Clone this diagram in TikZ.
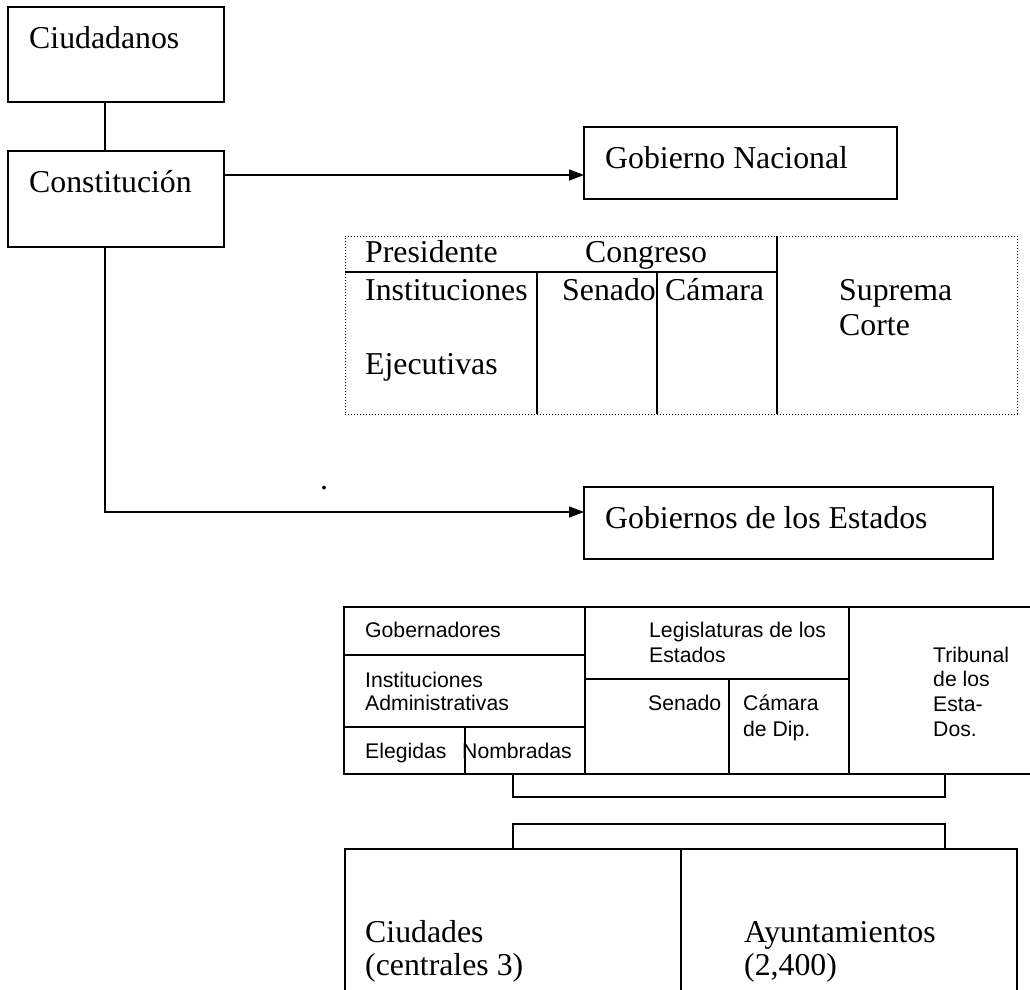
\documentclass[tikz,border=0pt]{standalone}
\usepackage{fontspec}
\setmainfont{Liberation Serif}
\newfontfamily\arialfont{Liberation Sans}
\usetikzlibrary{arrows.meta}
\begin{document}
\begin{tikzpicture}[x=1pt,y=-1pt,
  box/.style={draw,line width=1.4pt,inner sep=0pt,outer sep=0pt,anchor=north west},
  rule/.style={line width=1.4pt},
  serif/.style={inner sep=0pt,anchor=base west,font=\fontsize{31.8}{36}\selectfont},
  sans/.style={inner sep=0pt,anchor=base west,font=\arialfont\fontsize{21.2}{24.5}\selectfont},
  arr/.style={line width=1.4pt,-{Triangle[length=15pt,width=11pt]}},
  dots/.style={draw,line width=1pt,dash pattern=on 1pt off 2pt,inner sep=0pt,outer sep=0pt,anchor=north west}]
\useasboundingbox[fill=white] (0,0) rectangle (1030,989);

% --- top chain ---
\node[box,minimum width=216,minimum height=95] (ciud) at (8,7) {};
\node[serif] (tciud) at (29,48) {Ciudadanos};
\node[box,minimum width=216,minimum height=96] (const) at (8,151) {};
\node[serif] (tconst) at (29,192) {Constitución};
\draw[rule] ([xshift=-11pt]ciud.south) -- ([xshift=-11pt]const.north);

% --- national government ---
\node[box,minimum width=313,minimum height=72] (gobnac) at (584,127) {};
\node[serif] (tgobnac) at (605,168) {Gobierno Nacional};
\draw[arr] ([yshift=24pt]const.east) -- ([yshift=24pt]const.east -| gobnac.west);

\node[dots,minimum width=672,minimum height=178] (natl) at (345,236) {};
\draw[rule] (345,272) -- (777,272);
\draw[rule] (537,272) -- (537,414);
\draw[rule] (657,272) -- (657,414);
\draw[rule] (777,236) -- (777,414);
\node[serif] (tpres) at (365,262) {Presidente};
\node[serif] (tcong) at (585,262) {Congreso};
\node[serif] (tinst) at (365,300) {Instituciones};
\node[serif] (tejec) at (365,374) {Ejecutivas};
\node[serif] (tsen) at (562,300) {Senado};
\node[serif] (tcam) at (665,300) {Cámara};
\node[serif] (tsup) at (839,300) {Suprema};
\node[serif] (tcorte) at (839,335) {Corte};

\node[serif] (dot) at (320,489) {.};

% --- state governments ---
\node[box,minimum width=409,minimum height=72] (gobest) at (584,487) {};
\node[serif] (tgobest) at (605,528) {Gobiernos de los Estados};
\draw[arr] ([xshift=-11pt]const.south) |- ([yshift=11pt]gobest.west);

\node[box,minimum width=700,minimum height=167] (tbl) at (344,607) {};
\draw[rule] (344,655) -- (585,655);
\draw[rule] (344,727) -- (585,727);
\draw[rule] (465,727) -- (465,774);
\draw[rule] (585,607) -- (585,774);
\draw[rule] (585,679) -- (849,679);
\draw[rule] (729,679) -- (729,774);
\draw[rule] (849,607) -- (849,774);
\node[sans] (tgob) at (365,637) {Gobernadores};
\node[sans] (tinsa) at (365,687) {Instituciones};
\node[sans] (tadm) at (365,710) {Administrativas};
\node[sans] (teleg) at (365,758) {Elegidas};
\node[sans] (tnomb) at (462,758) {Nombradas};
\node[sans] (tleg) at (649,637) {Legislaturas de los};
\node[sans] (tlegb) at (649,662) {Estados};
\node[sans] (tsena) at (648,710) {Senado};
\node[sans] (tcama) at (743,710) {Cámara};
\node[sans] (tdip) at (743,736) {de Dip.};
\node[sans] (ttri) at (933,662) {Tribunal};
\node[sans] (ttrib) at (933,686) {de los};
\node[sans] (ttric) at (933,711) {Esta-};
\node[sans] (ttrid) at (933,736) {Dos.};

% --- local level ---
\node[box,minimum width=672,minimum height=150] (bot) at (345,849) {};
\draw[rule] (681,849) -- (681,999);
\draw[rule] ([xshift=169pt]tbl.south west) -- ++(0,23) -- ++(432,0) -- ++(0,-23);
\draw[rule] ([xshift=168pt]bot.north west) -- ++(0,-25) -- ++(432,0) -- ++(0,25);
\node[serif] (tciudd) at (365,942) {Ciudades};
\node[serif] (tcent) at (365,975) {(centrales 3)};
\node[serif] (tayun) at (744,942) {Ayuntamientos};
\node[serif] (tnum) at (744,975) {(2,400)};
\end{tikzpicture}
\end{document}
